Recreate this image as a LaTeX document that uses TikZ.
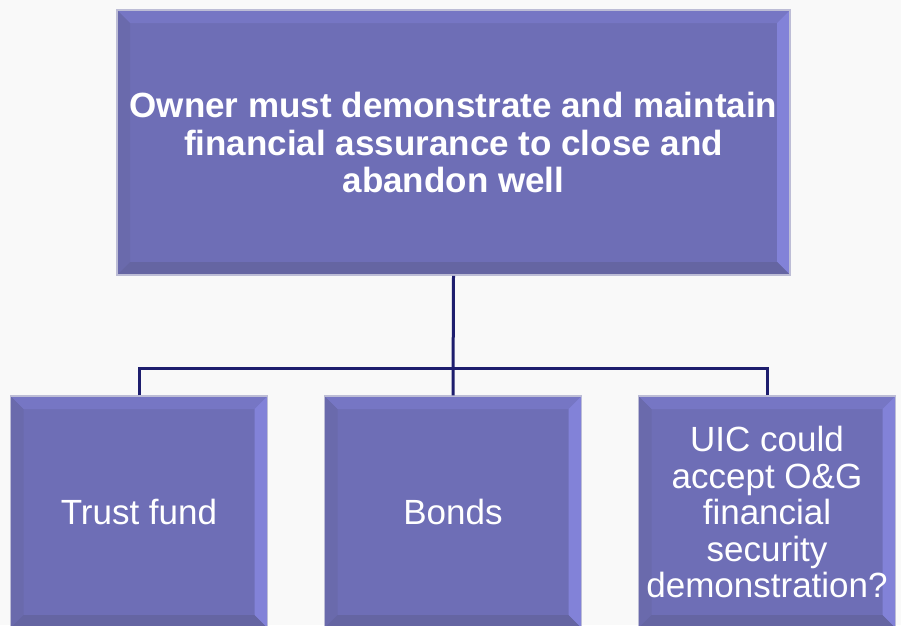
\documentclass[tikz,border=0pt]{standalone}
\usepackage{fontspec}
\setmainfont{Liberation Sans}
\usepackage{xcolor}
\usetikzlibrary{positioning, calc}

\definecolor{pagegray}{HTML}{F9F9F9}
\definecolor{boxfill}{HTML}{6E6EB6}
\definecolor{boxtop}{HTML}{7676C4}
\definecolor{boxright}{HTML}{8282D8}
\definecolor{boxleft}{HTML}{6A6AAC}
\definecolor{boxbottom}{HTML}{6565A2}
\definecolor{boxedge}{HTML}{BDBDD6}
\definecolor{linkblue}{HTML}{1E1E6E}

\tikzset{
  bevel/.style={path picture={
    \coordinate (nw) at (path picture bounding box.north west);
    \coordinate (ne) at (path picture bounding box.north east);
    \coordinate (sw) at (path picture bounding box.south west);
    \coordinate (se) at (path picture bounding box.south east);
    \fill[boxtop] (nw) -- (ne) -- ([shift={(-13pt,-13pt)}]ne) -- ([shift={(13pt,-13pt)}]nw) -- cycle;
    \fill[boxright] (ne) -- (se) -- ([shift={(-13pt,13pt)}]se) -- ([shift={(-13pt,-13pt)}]ne) -- cycle;
    \fill[boxleft] (nw) -- (sw) -- ([shift={(13pt,13pt)}]sw) -- ([shift={(13pt,-13pt)}]nw) -- cycle;
    \fill[boxbottom] (sw) -- (se) -- ([shift={(-13pt,13pt)}]se) -- ([shift={(13pt,13pt)}]sw) -- cycle;
  }},
  topbox/.style={bevel, draw=boxedge, line width=1.5pt, fill=boxfill, text=white,
    minimum width=673pt, minimum height=265pt, align=center,
    font=\fontsize{35}{37.5}\selectfont\bfseries},
  leafbox/.style={bevel, draw=boxedge, line width=1.5pt, fill=boxfill, text=white,
    minimum width=257pt, minimum height=232pt, align=center, inner sep=0pt,
    font=\fontsize{35}{36.5}\selectfont},
  link/.style={draw=linkblue, line width=3pt}
}

\begin{document}
\begin{tikzpicture}[x=1pt, y=-1pt]
\fill[pagegray] (0,0) rectangle (901,625);
\useasboundingbox (0,0) rectangle (901,625);
\clip (0,0) rectangle (901,625);

% top of the hierarchy
\node[topbox] (owner) at (453.5,142.5) {Owner must demonstrate and maintain\\financial assurance to close and\\abandon well};

% three options
\node[leafbox] (trust) at (139,512) {Trust fund};
\node[leafbox] (bonds) at (453,512) {Bonds};
\node[leafbox] (uic) at (767,512) {UIC could\\accept O\&G\\financial\\security\\demonstration?};

% connectors
\coordinate (bus) at (453,368);
\draw[link] (owner.south) -- (bonds.north);
\draw[link] (trust.north) |- (bus) -| (uic.north);
\end{tikzpicture}
\end{document}
